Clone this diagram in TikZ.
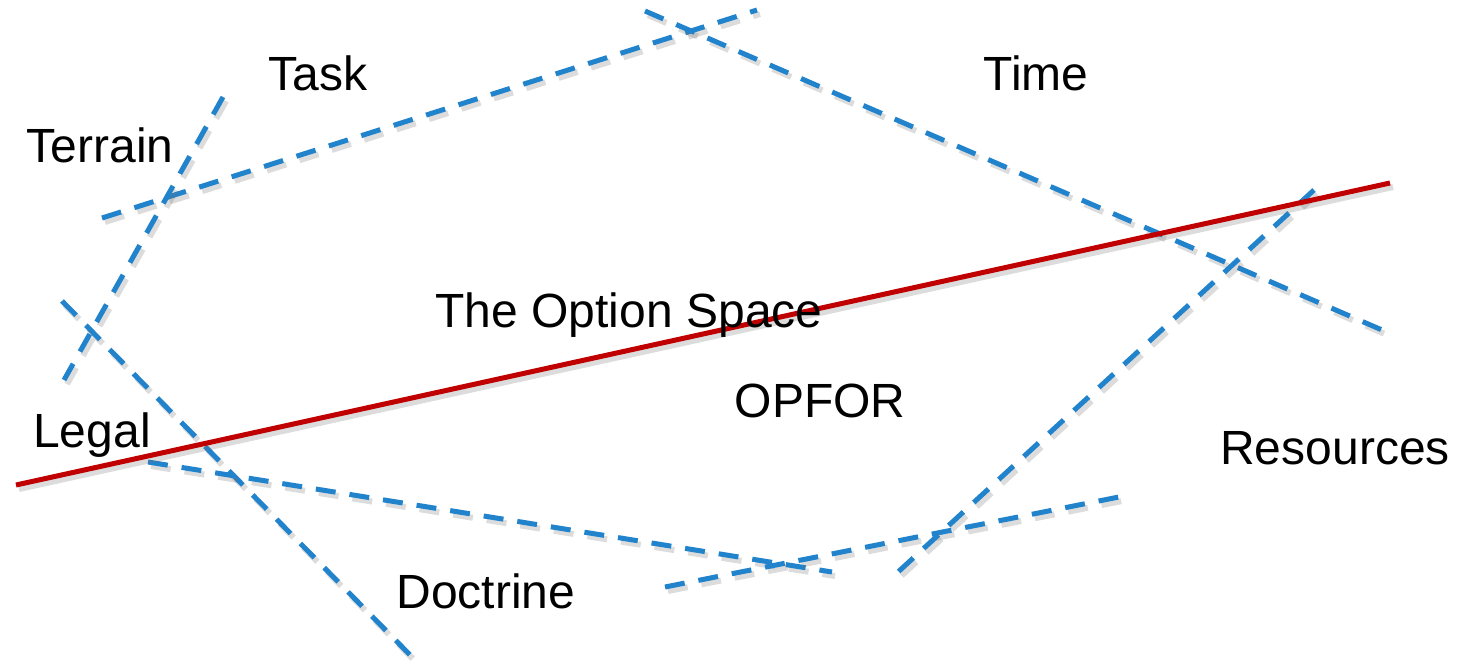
\documentclass[tikz,border=0pt]{standalone}
\usepackage{fontspec}
\setmainfont{Liberation Sans}
\definecolor{lineblue}{RGB}{33,131,204}
\definecolor{linered}{RGB}{192,0,0}
\tikzset{
  shadowed/.style={preaction={draw=black!55,opacity=0.25,line width=6pt,#1,transform canvas={shift={(3pt,-4pt)}}}},
  constraint/.style={shadowed={dash pattern=on 20pt off 14pt},draw=lineblue,line width=5pt,dash pattern=on 20pt off 14pt},
  option/.style={shadowed={solid},draw=linered,line width=5pt},
  lbl/.style={anchor=base,font=\fontsize{48}{52}\selectfont,inner sep=0pt}
}
\begin{document}
\begin{tikzpicture}[x=1pt,y=-1pt]
\useasboundingbox (0,0) rectangle (1459,669);
% endpoints
\coordinate (taskA) at (102,218);
\coordinate (taskB) at (757,10);
\coordinate (timeA) at (645,11);
\coordinate (timeB) at (1382,330);
\coordinate (terrA) at (223,97);
\coordinate (terrB) at (64,380);
\coordinate (legA) at (62,301);
\coordinate (legB) at (415,660);
\coordinate (docA) at (148,462);
\coordinate (docB) at (832,572);
\coordinate (lowA) at (665,587);
\coordinate (lowB) at (1124,496);
\coordinate (resA) at (1314,190);
\coordinate (resB) at (898,572);
\coordinate (redA) at (16,485);
\coordinate (redB) at (1390,183);
% constraint lines
\draw[constraint] (taskA) -- (taskB);
\draw[constraint] (timeA) -- (timeB);
\draw[constraint] (terrA) -- (terrB);
\draw[constraint] (legA) -- (legB);
\draw[constraint] (docA) -- (docB);
\draw[constraint] (lowA) -- (lowB);
\draw[constraint] (resA) -- (resB);
\draw[option] (redA) -- (redB);
% labels
\node[lbl] (task) at (318,91) {Task};
\node[lbl] (terrain) at (100,162) {Terrain};
\node[lbl] (time) at (1036,91) {Time};
\node[lbl] (space) at (629,327) {The Option Space};
\node[lbl] (opfor) at (820,417) {OPFOR};
\node[lbl] (legal) at (92,447) {Legal};
\node[lbl] (res) at (1335,464) {Resources};
\node[lbl] (doc) at (486,608) {Doctrine};
\end{tikzpicture}
\end{document}
